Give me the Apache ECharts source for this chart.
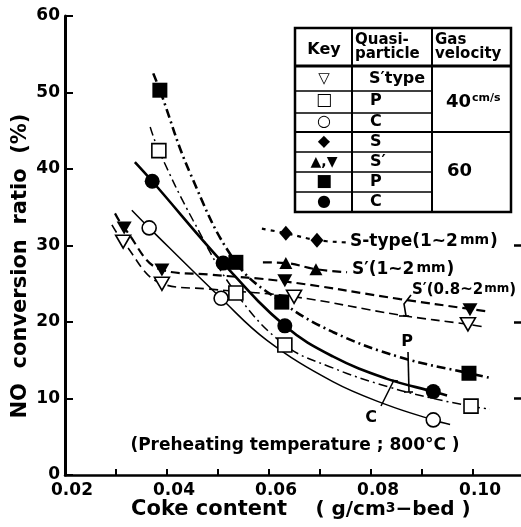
<!DOCTYPE html>
<html>
<head>
<meta charset="utf-8">
<script src="https://cdn.jsdelivr.net/npm/echarts@6/dist/echarts.min.js"></script>
<style>
html,body{margin:0;padding:0;background:#fff;}
#c{width:521px;height:527px;}
</style>
</head>
<body>
<div id="c"></div>
<script>
// ---- tick labels ----
const xLabelValues = [0.02, 0.04, 0.06, 0.08, 0.10];
const xTickValues = [0.03, 0.04, 0.05, 0.06, 0.07, 0.08, 0.09, 0.10];
const yTickValues = [0, 10, 20, 30, 40, 50, 60];
const rightTickValues = [10, 20, 30];

// ---- measured points (x: coke content g/cm3-bed, y: NO conversion %) ----
const ptsP60 = [[0.0386, 50.3], [0.0535, 27.8], [0.0625, 22.6], [0.0992, 13.3]];
const ptsP40 = [[0.0384, 42.4], [0.0535, 23.8], [0.0631, 17.0], [0.0996, 9.0]];
const ptsC60 = [[0.0371, 38.4], [0.0510, 27.7], [0.0631, 19.5], [0.0922, 10.9]];
const ptsC40 = [[0.0365, 32.3], [0.0506, 23.1], [0.0922, 7.2]];
const ptsSp60 = [[0.0316, 32.3], [0.0390, 26.8], [0.0631, 25.4], [0.0994, 21.6]];
const ptsSt40 = [[0.0314, 30.5], [0.0390, 25.0], [0.0649, 23.3], [0.0990, 19.7]];
const ptsS60 = [[0.0633, 31.6], [0.0694, 30.7]];
const ptsSp12 = [[0.0633, 27.7], [0.0692, 26.9]];

// ---- fitted curves ----
const curveP60 = [[0.0373, 52.5], [0.0386, 50.3], [0.0445, 39.5], [0.0535, 27.8], [0.0625, 22.6], [0.0725, 18.7], [0.0857, 15.4], [0.0992, 13.3], [0.1033, 12.7]];
const curveP40 = [[0.0367, 45.5], [0.0384, 42.4], [0.0451, 33.3], [0.0535, 23.8], [0.0631, 17.0], [0.0725, 14.0], [0.0830, 11.6], [0.0922, 10.0], [0.0996, 9.0], [0.1033, 8.6]];
const curveC60 = [[0.0337, 40.9], [0.0371, 38.4], [0.0510, 27.7], [0.0631, 19.5], [0.0725, 15.5], [0.0830, 12.6], [0.0922, 10.9], [0.0949, 10.4]];
const curveC40 = [[0.0331, 34.6], [0.0365, 32.3], [0.0506, 23.1], [0.0596, 17.6], [0.0725, 12.2], [0.0830, 9.2], [0.0922, 7.2], [0.0955, 6.6]];
const curveSp60 = [[0.0298, 34.2], [0.0316, 32.3], [0.0390, 26.8], [0.0484, 26.2], [0.0631, 25.3], [0.0857, 23.0], [0.0994, 21.7], [0.1027, 21.4]];
const curveSt40 = [[0.0292, 32.7], [0.0314, 30.5], [0.0390, 25.0], [0.0484, 24.3], [0.0649, 23.3], [0.0857, 20.9], [0.0990, 19.7], [0.1018, 19.4]];
const curveS60 = [[0.0586, 32.2], [0.0633, 31.6], [0.0694, 30.7], [0.0753, 30.4]];
const curveSp12 = [[0.0588, 27.8], [0.0633, 27.7], [0.0692, 26.9], [0.0753, 26.5]];

const F = '"DejaVu Sans", sans-serif';
const chart = echarts.init(document.getElementById('c'), null, {renderer: 'canvas'});

function curve(data, width, type) {
  return {type: 'line', data: data, smooth: 0.4, showSymbol: false, silent: true,
    lineStyle: {color: '#000', width: width, type: type}, z: 2, animation: false};
}
function marks(data, symbol, size, filled, rotate) {
  return {type: 'scatter', data: data, symbol: symbol, symbolSize: size, symbolRotate: rotate || 0,
    itemStyle: {color: filled ? '#000' : '#fff', borderColor: '#000', borderWidth: filled ? 0 : 1.6, opacity: 1},
    z: 5, animation: false};
}
const dashDot = [9, 4, 2, 4];
const dash = [9, 5];

function T(x, y, text, size, opts) {
  opts = opts || {};
  return {type: 'text', x: x, y: y, rotation: opts.rot || 0, z: 100,
    style: {text: text, fill: '#000', font: 'bold ' + size + 'px ' + F,
      align: opts.align || 'left', verticalAlign: 'middle', rich: opts.rich}};
}
function L(x1, y1, x2, y2, w) {
  return {type: 'line', z: 100, shape: {x1: x1, y1: y1, x2: x2, y2: y2}, style: {stroke: '#000', lineWidth: w || 1.5}};
}
function PL(points, w) {
  return {type: 'polyline', z: 100, shape: {points: points}, style: {stroke: '#000', lineWidth: w || 1.5, fill: null}};
}
function rich(big, small, pad) {
  return {a: {font: 'bold ' + big + 'px ' + F}, b: {font: 'bold ' + small + 'px ' + F, padding: pad}};
}

const rowLines = [91, 113, 152, 172, 192];
const graphics = [
  // legend table
  {type: 'rect', z: 99, shape: {x: 295, y: 28, width: 216, height: 184}, style: {fill: '#fff', stroke: '#000', lineWidth: 2.5}},
  L(352, 28, 352, 212, 2), L(432, 28, 432, 212, 2),
  L(295, 66, 511, 66, 3), L(295, 132, 511, 132, 2),
  ...rowLines.map(y => L(295, y, 432, y, 1.6)),
  T(324, 50, 'Key', 16, {align: 'center'}),
  T(355, 40, 'Quasi-', 15), T(355, 54, 'particle', 15),
  T(435, 40, 'Gas', 15), T(435, 54, 'velocity', 15),
  T(324, 79, '▽', 15, {align: 'center'}),
  T(324, 101, '□', 17, {align: 'center'}),
  T(324, 122, '○', 16, {align: 'center'}),
  T(324, 142, '◆', 16, {align: 'center'}),
  T(324, 162, '▲,▼', 14, {align: 'center'}),
  T(324, 182, '■', 17, {align: 'center'}),
  T(324, 202, '●', 16, {align: 'center'}),
  T(369, 79, 'S′type', 16), T(370, 101, 'P', 16), T(370, 122, 'C', 16),
  T(370, 142, 'S', 16), T(370, 162, 'S′', 16), T(370, 182, 'P', 16), T(370, 202, 'C', 16),
  T(446, 102, '{a|40}{b|cm/s}', 17, {rich: rich(18, 11, [0, 0, 8, 1])}),
  T(447, 171, '60', 18),
  // curve labels
  T(350, 242, '{a|S-type(1~2}{b|mm}{a|)}', 17, {rich: rich(17, 14, [0, 1, 3, 2])}),
  T(352, 270, '{a|S′(1~2}{b|mm}{a|)}', 17, {rich: rich(17, 14, [0, 1, 3, 2])}),
  T(412, 290, '{a|S′(0.8~2}{b|mm}{a|)}', 15, {rich: rich(15, 12, [0, 0, 3, 1])}),
  PL([[411, 295], [404, 304], [406, 316]], 1.6), L(399, 316, 409, 316, 1.6),
  T(407, 342, 'P', 16, {align: 'center'}),
  L(408, 352, 409, 392, 1.6), L(404, 392, 413, 392, 1.6),
  T(371, 418, 'C', 16, {align: 'center'}),
  L(381, 406, 394, 380, 1.6), L(390, 380, 398, 381, 1.6),
  // annotation & axis titles
  T(295, 446, '(Preheating temperature ; 800°C )', 17, {align: 'center'}),
  T(209, 510, 'Coke content', 21, {align: 'center'}),
  T(393, 510, '{a|( g/cm}{b|3}{a|−bed )}', 20, {align: 'center', rich: rich(20, 14, [0, 0, 4, 0])}),
  T(21, 266, 'NO  conversion  ratio  (%)', 21, {align: 'center', rot: Math.PI / 2})
];

const option = {
  backgroundColor: '#fff',
  animation: false,
  grid: {left: 65, right: 0, top: 16, bottom: 52, containLabel: false},
  xAxis: {
    type: 'value', min: 0.02, max: 0.1094, interval: 0.01,
    axisLine: {show: true, onZero: false, lineStyle: {color: '#000', width: 2.5}},
    axisTick: {show: true, inside: true, length: 6, customValues: xTickValues, lineStyle: {color: '#000', width: 2}},
    splitLine: {show: false},
    axisLabel: {customValues: xLabelValues, formatter: v => v.toFixed(2), color: '#000', fontWeight: 'bold',
      fontSize: 17, fontFamily: F, margin: 7, padding: [0, 0, 0, 14]}
  },
  yAxis: [{
    type: 'value', min: 0, max: 60, interval: 10,
    axisLine: {show: true, onZero: false, lineStyle: {color: '#000', width: 3}},
    axisTick: {show: true, inside: true, length: 8, customValues: yTickValues, lineStyle: {color: '#000', width: 2}},
    splitLine: {show: false},
    axisLabel: {color: '#000', fontWeight: 'bold', fontSize: 17, fontFamily: F, margin: 5}
  }, {
    type: 'value', min: 0, max: 60, interval: 10, position: 'right',
    axisLine: {show: false},
    axisTick: {show: true, inside: true, length: 7, customValues: rightTickValues, lineStyle: {color: '#000', width: 2.5}},
    axisLabel: {show: false}, splitLine: {show: false}
  }],
  series: [
    curve(curveP60, 2.6, dashDot),
    curve(curveP40, 1.5, dashDot),
    curve(curveC60, 2.6, 'solid'),
    curve(curveC40, 1.5, 'solid'),
    curve(curveSp60, 2.2, dash),
    curve(curveSt40, 1.6, dash),
    curve(curveS60, 2.2, [4, 5]),
    curve(curveSp12, 2.2, dash),
    marks(ptsP60, 'rect', 15, true),
    marks(ptsP40, 'rect', 14, false),
    marks(ptsC60, 'circle', 15, true),
    marks(ptsC40, 'circle', 14, false),
    marks(ptsSp60, 'triangle', [15, 13], true, 180),
    marks(ptsSt40, 'triangle', [15, 13], false, 180),
    marks(ptsS60, 'diamond', [13, 15], true),
    marks(ptsSp12, 'triangle', [13, 12], true)
  ],
  graphic: graphics
};
chart.setOption(option);
</script>
</body>
</html>
